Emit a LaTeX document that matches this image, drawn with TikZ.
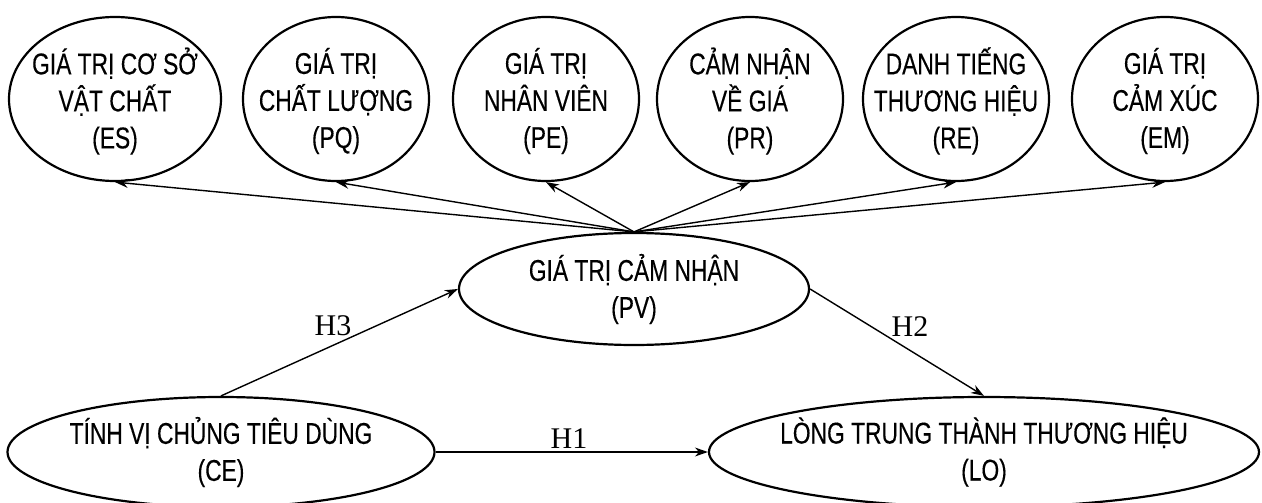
\documentclass[tikz,border=0pt]{standalone}
\usepackage{fontspec}
\setmainfont[FakeStretch=0.76,FakeBold=0.3]{Liberation Sans}
\newfontfamily\hfont{Liberation Serif}
\usetikzlibrary{shapes.geometric,arrows.meta}
\begin{document}
\begin{tikzpicture}[x=1pt,y=-1pt,
  ell/.style={draw, ellipse, line width=2.2pt, inner sep=0pt},
  topell/.style={ell, minimum width=186pt, minimum height=164pt},
  lbl/.style={align=center, inner sep=0pt},
  toptxt/.style={lbl, font=\fontsize{30}{37}\selectfont},
  bigtxt/.style={lbl, font=\fontsize{30}{37}\selectfont},
  arr/.style={-{Stealth[length=13pt,width=9pt]}, line width=1.4pt},
  hyp/.style={font=\hfont\fontsize{30}{30}\selectfont, inner sep=0pt}]
\useasboundingbox (0,0) rectangle (1262,503);
% top ellipses
\node[topell, minimum width=212pt] (ES) at (115,99) {};
\node[topell] (PQ) at (336,99) {};
\node[topell] (PE) at (546,99) {};
\node[topell] (PR) at (750,99) {};
\node[topell] (RE) at (956,99) {};
\node[topell] (EM) at (1165,99) {};
\node[toptxt] (ESt) at (115,101) {GIÁ TRỊ CƠ SỞ\\VẬT CHẤT\\(ES)};
\node[toptxt] (PQt) at (336,101) {GIÁ TRỊ\\CHẤT LƯỢNG\\(PQ)};
\node[toptxt] (PEt) at (546,101) {GIÁ TRỊ\\NHÂN VIÊN\\(PE)};
\node[toptxt] (PRt) at (750,101) {CẢM NHẬN\\VỀ GIÁ\\(PR)};
\node[toptxt] (REt) at (956,101) {DANH TIẾNG\\THƯƠNG HIỆU\\(RE)};
\node[toptxt] (EMt) at (1165,101) {GIÁ TRỊ\\CẢM XÚC\\(EM)};
% middle and bottom ellipses
\node[ell, minimum width=350pt, minimum height=112pt] (PV) at (634,289) {};
\node[bigtxt] (PVt) at (PV) {GIÁ TRỊ CẢM NHẬN\\(PV)};
\node[ell, minimum width=427pt, minimum height=110pt] (CE) at (221,452) {};
\node[bigtxt] (CEt) at (CE) {TÍNH VỊ CHỦNG TIÊU DÙNG\\(CE)};
\node[ell, minimum width=550pt, minimum height=110pt] (LO) at (984,452) {};
\node[bigtxt] (LOt) at (LO) {LÒNG TRUNG THÀNH THƯƠNG HIỆU\\(LO)};
% connectors
\foreach \t in {ES,PQ,PE,PR,RE,EM}
  \draw[arr] (PV.north) -- (\t.south);
\draw[arr] (CE.north) -- (PV.west);
\draw[arr] (PV.east) -- (LO.north);
\draw[arr] (CE.east) -- (LO.west);
% hypothesis labels
\node[hyp] (H3) at (333,326) {H3};
\node[hyp] (H2) at (910,327) {H2};
\node[hyp] (H1) at (569,439) {H1};
\end{tikzpicture}
\end{document}
